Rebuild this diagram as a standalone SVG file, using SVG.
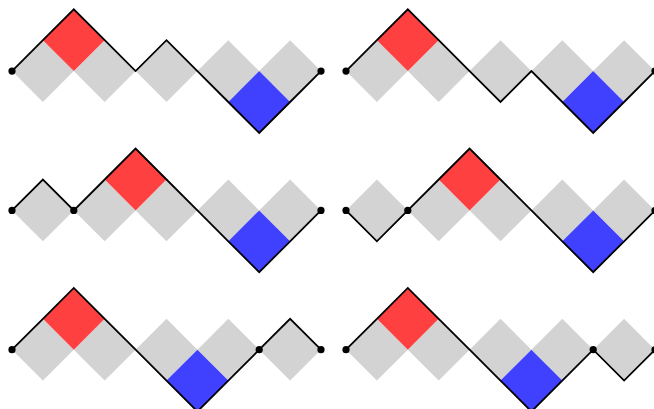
<svg xmlns="http://www.w3.org/2000/svg" xmlns:xlink="http://www.w3.org/1999/xlink" width="654" height="409" viewBox="0 0 654 409">
<style>
.g{fill:#d3d3d3}
.r{fill:#ff4040}
.b{fill:#4040ff}
.p{fill:none;stroke:#000;stroke-width:1.8;stroke-linejoin:miter}
.dot{fill:#000}
</style>
<defs>
<path id="d" d="M0,-30.9 L30.9,0 L0,30.9 L-30.9,0Z"/>
<g id="grays">
<use xlink:href="#d" href="#d" x="30.9" y="0" class="g"/>
<use xlink:href="#d" href="#d" x="92.7" y="0" class="g"/>
<use xlink:href="#d" href="#d" x="154.5" y="0" class="g"/>
<use xlink:href="#d" href="#d" x="216.3" y="0" class="g"/>
<use xlink:href="#d" href="#d" x="278.1" y="0" class="g"/>
</g>
</defs>
<rect width="654" height="409" fill="#fff"/>

<g id="panel1" transform="translate(12,71.1)">
<use xlink:href="#grays" href="#grays"/>
<use xlink:href="#d" href="#d" x="61.8" y="-30.9" class="r"/>
<use xlink:href="#d" href="#d" x="247.2" y="30.9" class="b"/>
<g class="connectors">
<polyline class="p" points="0,0 30.9,-30.9 61.8,-61.8 92.7,-30.9 123.6,0 154.5,-30.9 185.4,0 216.3,30.9 247.2,61.8 278.1,30.9 309,0"/>
</g>
<circle class="dot" cx="0" cy="0" r="3.6"/>
<circle class="dot" cx="309" cy="0" r="3.6"/>
</g>

<g id="panel2" transform="translate(346,71.1)">
<use xlink:href="#grays" href="#grays"/>
<use xlink:href="#d" href="#d" x="61.8" y="-30.9" class="r"/>
<use xlink:href="#d" href="#d" x="247.2" y="30.9" class="b"/>
<g class="connectors">
<polyline class="p" points="0,0 30.9,-30.9 61.8,-61.8 92.7,-30.9 123.6,0 154.5,30.9 185.4,0 216.3,30.9 247.2,61.8 278.1,30.9 309,0"/>
</g>
<circle class="dot" cx="0" cy="0" r="3.6"/>
<circle class="dot" cx="309" cy="0" r="3.6"/>
</g>

<g id="panel3" transform="translate(12,210.4)">
<use xlink:href="#grays" href="#grays"/>
<use xlink:href="#d" href="#d" x="123.6" y="-30.9" class="r"/>
<use xlink:href="#d" href="#d" x="247.2" y="30.9" class="b"/>
<g class="connectors">
<polyline class="p" points="0,0 30.9,-30.9 61.8,0 92.7,-30.9 123.6,-61.8 154.5,-30.9 185.4,0 216.3,30.9 247.2,61.8 278.1,30.9 309,0"/>
</g>
<circle class="dot" cx="0" cy="0" r="3.6"/>
<circle class="dot" cx="61.8" cy="0" r="3.6"/>
<circle class="dot" cx="309" cy="0" r="3.6"/>
</g>

<g id="panel4" transform="translate(346,210.4)">
<use xlink:href="#grays" href="#grays"/>
<use xlink:href="#d" href="#d" x="123.6" y="-30.9" class="r"/>
<use xlink:href="#d" href="#d" x="247.2" y="30.9" class="b"/>
<g class="connectors">
<polyline class="p" points="0,0 30.9,30.9 61.8,0 92.7,-30.9 123.6,-61.8 154.5,-30.9 185.4,0 216.3,30.9 247.2,61.8 278.1,30.9 309,0"/>
</g>
<circle class="dot" cx="0" cy="0" r="3.6"/>
<circle class="dot" cx="61.8" cy="0" r="3.6"/>
<circle class="dot" cx="309" cy="0" r="3.6"/>
</g>

<g id="panel5" transform="translate(12,349.7)">
<use xlink:href="#grays" href="#grays"/>
<use xlink:href="#d" href="#d" x="61.8" y="-30.9" class="r"/>
<use xlink:href="#d" href="#d" x="185.4" y="30.9" class="b"/>
<g class="connectors">
<polyline class="p" points="0,0 30.9,-30.9 61.8,-61.8 92.7,-30.9 123.6,0 154.5,30.9 185.4,61.8 216.3,30.9 247.2,0 278.1,-30.9 309,0"/>
</g>
<circle class="dot" cx="0" cy="0" r="3.6"/>
<circle class="dot" cx="247.2" cy="0" r="3.6"/>
<circle class="dot" cx="309" cy="0" r="3.6"/>
</g>

<g id="panel6" transform="translate(346,349.7)">
<use xlink:href="#grays" href="#grays"/>
<use xlink:href="#d" href="#d" x="61.8" y="-30.9" class="r"/>
<use xlink:href="#d" href="#d" x="185.4" y="30.9" class="b"/>
<g class="connectors">
<polyline class="p" points="0,0 30.9,-30.9 61.8,-61.8 92.7,-30.9 123.6,0 154.5,30.9 185.4,61.8 216.3,30.9 247.2,0 278.1,30.9 309,0"/>
</g>
<circle class="dot" cx="0" cy="0" r="3.6"/>
<circle class="dot" cx="247.2" cy="0" r="3.6"/>
<circle class="dot" cx="309" cy="0" r="3.6"/>
</g>
</svg>
